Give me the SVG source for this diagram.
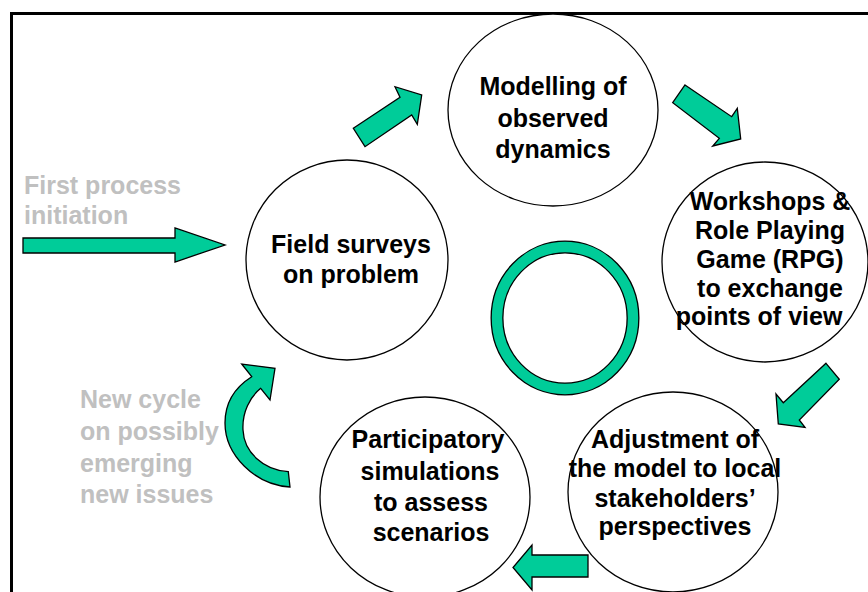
<svg xmlns="http://www.w3.org/2000/svg" width="868" height="592" viewBox="0 0 868 592">
<style>
.node{fill:#fff;stroke:#000;stroke-width:1.3}
.arrow{fill:#00CC99;stroke:#000;stroke-width:1.3;stroke-linejoin:miter}
.t{font-family:"Liberation Sans",Arial,sans-serif;font-weight:bold;font-size:25px;fill:#000;text-anchor:middle}
.g{font-family:"Liberation Sans",Arial,sans-serif;font-weight:bold;font-size:25px;fill:#C0C0C0}
</style>
<rect width="868" height="592" fill="#fff"/>
<path d="M11.5,592 V13.5 H868" fill="none" stroke="#000" stroke-width="3"/>

<g id="ring">
<ellipse cx="565" cy="318" rx="68" ry="71" fill="none" stroke="#000" stroke-width="13"/>
<ellipse cx="565" cy="318" rx="68" ry="71" fill="none" stroke="#00CC99" stroke-width="10.4"/>
</g>

<g id="connectors">
<polygon class="arrow" points="23,238 175,238 175,228 225,245 175,262 175,253 23,253"/>
<polygon class="arrow" points="353.3,128.3 400,97.3 395,86.7 421.7,95 417.3,124.3 411.7,115 365,146.7"/>
<polygon class="arrow" points="685,85 731.7,116.7 737.3,108.3 740.7,139 712.7,146 719.3,138.3 672.7,102.7"/>
<polygon class="arrow" points="826,363.3 839.3,379.3 799.3,420 805,427.3 778.3,424 776,394 783.3,402.7"/>
<polygon class="arrow" points="588,555 532,555 532,545 513,567.5 532,590 532,577 588,577"/>
<path class="arrow" d="M290,487 C255,485 225,455 225,423 C225,400 237,386 251.7,376.7 L241.7,364 L275,368.3 L270,400 L260.7,388.3 C250,397 242,412 243,430 C244,452 263,470 288.3,471.7 Z"/>
</g>

<g id="label-first">
<text class="g" x="24" y="194">First process</text>
<text class="g" x="24" y="224">initiation</text>
</g>
<g id="label-new">
<text class="g" x="80" y="408">New cycle</text>
<text class="g" x="80" y="440">on possibly</text>
<text class="g" x="80" y="472">emerging</text>
<text class="g" x="80" y="503">new issues</text>
</g>

<g id="node-field">
<ellipse class="node" cx="347" cy="260" rx="101" ry="100"/>
<text class="t" x="351" y="253">Field surveys</text>
<text class="t" x="351" y="283">on problem</text>
</g>

<g id="node-modelling">
<ellipse class="node" cx="553" cy="110" rx="105" ry="96"/>
<text class="t" x="553" y="95">Modelling of</text>
<text class="t" x="553" y="127">observed</text>
<text class="t" x="553" y="158">dynamics</text>
</g>

<g id="node-workshops">
<ellipse class="node" cx="765" cy="262" rx="103" ry="100"/>
<text class="t" x="770" y="210">Workshops &amp;</text>
<text class="t" x="770" y="239">Role Playing</text>
<text class="t" x="770" y="268">Game (RPG)</text>
<text class="t" x="770" y="297">to exchange</text>
<text class="t" x="759" y="325">points of view</text>
</g>

<g id="node-adjustment">
<ellipse class="node" cx="673" cy="492" rx="105" ry="100"/>
<text class="t" x="675" y="448">Adjustment of</text>
<text class="t" x="675" y="477">the model to local</text>
<text class="t" x="675" y="507">stakeholders’</text>
<text class="t" x="675" y="535">perspectives</text>
</g>

<g id="node-participatory">
<ellipse class="node" cx="425" cy="497" rx="105" ry="100"/>
<text class="t" x="428" y="448">Participatory</text>
<text class="t" x="430" y="480">simulations</text>
<text class="t" x="431" y="511">to assess</text>
<text class="t" x="431" y="541">scenarios</text>
</g>
</svg>
